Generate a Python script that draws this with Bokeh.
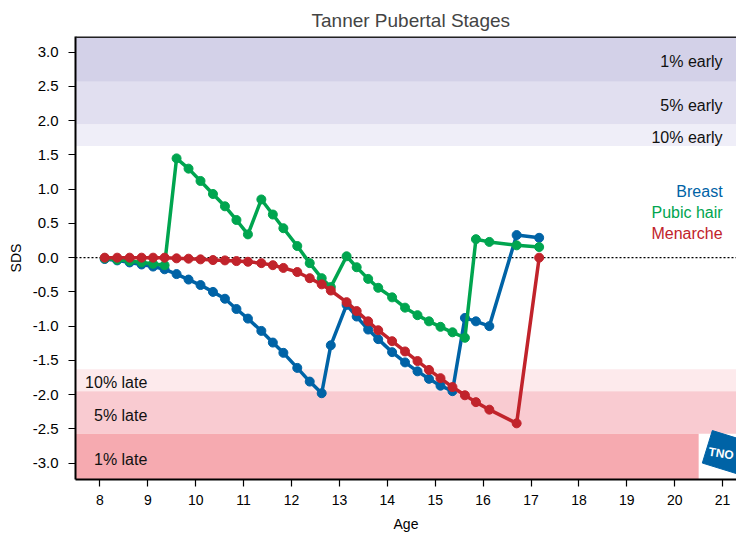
from bokeh.plotting import figure
from bokeh.models import (Range1d, BoxAnnotation, Span, Label, FixedTicker,
                          PrintfTickFormatter)
from bokeh.embed import file_html
from bokeh.resources import INLINE
from bokeh.core.properties import value

# ---- data ----
ages = [8.10, 8.36, 8.62, 8.87, 9.11, 9.35, 9.60, 9.85, 10.10, 10.36, 10.61, 10.85,
        11.09, 11.37, 11.61, 11.83, 12.12, 12.38, 12.63, 12.82, 13.15, 13.36, 13.60,
        13.81, 14.10, 14.37, 14.63, 14.87, 15.11, 15.36, 15.62, 15.85, 16.13, 16.70, 17.17]
breast = [-0.02, -0.04, -0.07, -0.10, -0.13, -0.17, -0.24, -0.32, -0.40, -0.50, -0.60, -0.75,
          -0.89, -1.07, -1.24, -1.39, -1.61, -1.81, -1.98, -1.28, -0.69, -0.86, -1.05,
          -1.19, -1.38, -1.53, -1.66, -1.77, -1.87, -1.95, -0.88, -0.93, -1.00, 0.33, 0.29]
pubic_hair = [-0.01, -0.03, -0.05, -0.07, -0.09, -0.11, 1.45, 1.30, 1.12, 0.93, 0.75, 0.55,
              0.34, 0.85, 0.63, 0.43, 0.17, -0.08, -0.30, -0.43, 0.02, -0.14, -0.31,
              -0.44, -0.58, -0.73, -0.84, -0.93, -1.01, -1.09, -1.17, 0.27, 0.23, 0.18, 0.155]
menarche = [0.0, 0.0, 0.0, 0.0, 0.0, 0.0, -0.01, -0.015, -0.025, -0.035, -0.04, -0.05,
            -0.06, -0.08, -0.11, -0.15, -0.21, -0.30, -0.39, -0.48, -0.65, -0.78, -0.93,
            -1.06, -1.22, -1.37, -1.51, -1.64, -1.76, -1.89, -2.01, -2.11, -2.22, -2.42, 0.0]

series_names = ["Breast", "Pubic hair", "Menarche"]
series_colors = ["#0063a6", "#00a54f", "#c1232b"]

early_labels = ["10% early", "5% early", "1% early"]
early_edges = [1.63, 1.95, 2.57]
early_colors = ["#efeef8", "#e1dff0", "#d3d1e8"]
late_labels = ["10% late", "5% late", "1% late"]
late_edges = [-1.63, -1.95, -2.57]
late_colors = ["#fdeaec", "#f9cbd1", "#f6aab0"]

y_ticks = [-3.0, -2.5, -2.0, -1.5, -1.0, -0.5, 0.0, 0.5, 1.0, 1.5, 2.0, 2.5, 3.0]
x_ticks = list(range(8, 22))

X0, X1 = 7.49, 21.29
Y0, Y1 = -3.24, 3.23
FONT = "Liberation Sans"

p = figure(width=736, height=534, output_backend="svg", toolbar_location=None,
           x_range=Range1d(X0, X1), y_range=Range1d(Y0, Y1),
           min_border_left=75, min_border_right=0, min_border_top=36,
           min_border_bottom=55)

p.xgrid.visible = False
p.ygrid.visible = False
p.outline_line_color = None
p.background_fill_color = "white"
p.border_fill_color = "white"

# title
p.title.text = "Tanner Pubertal Stages"
p.title.text_font = FONT
p.title.text_font_size = "19px"
p.title.text_font_style = "normal"
p.title.align = "left"
p.title.offset = 236
p.title.standoff = 12

# bands
tops_e = early_edges[1:] + [Y1]
for lo, hi, c in zip(early_edges, tops_e, early_colors):
    p.add_layout(BoxAnnotation(bottom=lo, top=hi, fill_color=c, fill_alpha=1,
                               line_alpha=0, level="underlay"))
bots_l = late_edges[1:] + [Y0]
for hi, lo, c in zip(late_edges, bots_l, late_colors):
    p.add_layout(BoxAnnotation(bottom=lo, top=hi, fill_color=c, fill_alpha=1,
                               line_alpha=0, level="underlay"))

# logo box (white) in the lower right
p.add_layout(BoxAnnotation(left=20.5, top=late_edges[-1], bottom=Y0, fill_color="white",
                           fill_alpha=1, line_alpha=0, level="underlay"))
p.rect(x=[21.04], y=[-2.84], width=36, height=34, width_units="screen",
       height_units="screen", angle=-0.3, fill_color="#0063a6", line_color="#0063a6")
p.text(x=[20.97], y=[-2.86], text=["TNO"], text_color="white",
       text_font=value(FONT), text_font_size="12px", text_font_style="bold",
       text_align="center", text_baseline="middle", angle=-0.15)

# zero line
p.add_layout(Span(location=0, dimension="width", line_color="black",
                  line_dash="2 2", line_width=1.3, level="underlay"))
# top border of the plot area
p.add_layout(Span(location=Y1, dimension="width", line_color="#222222",
                  line_width=3))

# band labels
for lo, hi, t in zip(early_edges, tops_e, early_labels):
    p.add_layout(Label(x=21.0, y=(lo + hi) / 2 - 0.04, text=t, text_align="right",
                       text_baseline="middle", text_font=FONT, text_font_size="16px",
                       text_color="#111111"))
for hi, lo, t in zip(late_edges, bots_l, late_labels):
    p.add_layout(Label(x=8.99, y=(lo + hi) / 2 - 0.04, text=t, text_align="right",
                       text_baseline="middle", text_font=FONT, text_font_size="16px",
                       text_color="#111111"))

# series
for ys, c in zip([breast, pubic_hair, menarche], series_colors):
    p.line(ages, ys, line_color=c, line_width=3.5)
    p.scatter(ages, ys, size=9, fill_color=c, line_color=c)

# legend texts
legend_y = [0.96, 0.66, 0.36]
for name, c, ly in zip(series_names, series_colors, legend_y):
    p.add_layout(Label(x=21.0, y=ly, text=name, text_align="right",
                       text_baseline="middle", text_font=FONT, text_font_size="16px",
                       text_color=c))

# axes
for ax in (p.xaxis[0], p.yaxis[0]):
    ax.axis_line_width = 2
    ax.axis_line_color = "black"
    ax.major_tick_line_color = "black"
    ax.major_tick_line_width = 1.2
    ax.major_tick_out = 7
    ax.major_tick_in = 0
    ax.minor_tick_line_color = None
    ax.major_label_text_font = FONT
    ax.major_label_text_color = "black"
    ax.axis_label_text_font = FONT
    ax.axis_label_text_font_size = "14px"
    ax.axis_label_text_font_style = "normal"
    ax.axis_label_text_color = "black"

p.xaxis.major_label_text_font_size = "14px"
p.yaxis.major_label_text_font_size = "15px"
p.xaxis.major_label_standoff = 8
p.yaxis.major_label_standoff = 10
p.xaxis.ticker = FixedTicker(ticks=x_ticks)
p.yaxis.ticker = FixedTicker(ticks=y_ticks)
p.yaxis.formatter = PrintfTickFormatter(format="%.1f")
p.xaxis.axis_label = "Age"
p.yaxis.axis_label = "SDS"
p.xaxis.axis_label_standoff = 8
p.yaxis.axis_label_standoff = 6

open("out.html", "w").write(file_html(p, INLINE))
